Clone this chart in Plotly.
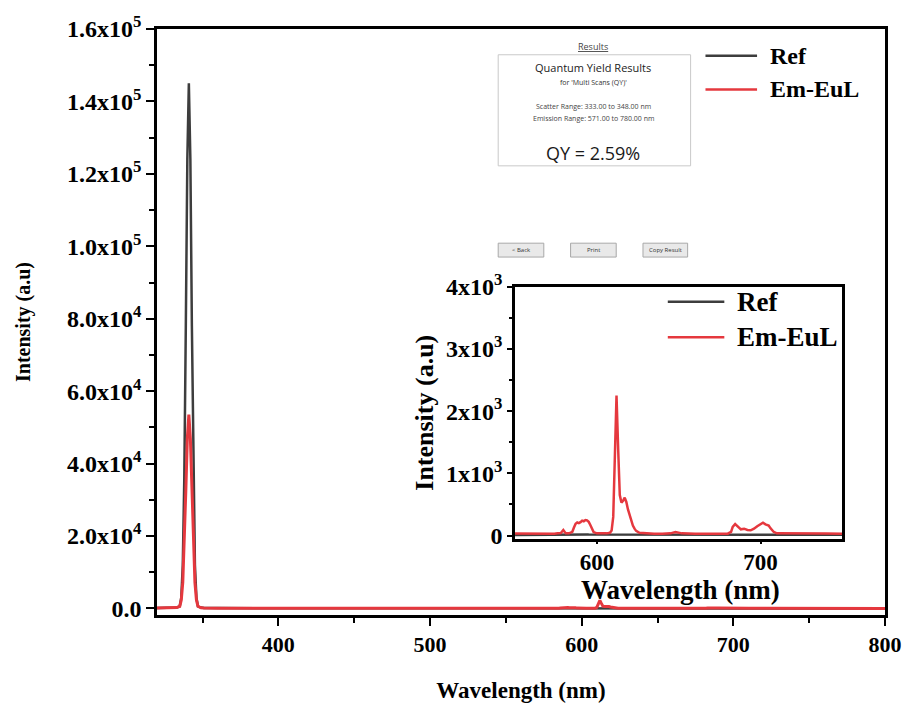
import plotly.graph_objects as go

# ---- spectra (wavelength in nm, intensity in a.u.) ----
scatter_wl = [320, 325, 330, 333, 335, 336, 337, 338, 339, 340, 341, 342, 343,
              344, 345, 346, 347, 349, 351, 360, 380, 400, 450, 500, 540]
ref_scatter = [150, 150, 200, 300, 600, 3000, 12000, 36000, 78000, 124000, 145000,
               124000, 78000, 36000, 12000, 3000, 600, 250, 150, 100, 80, 80, 60, 50, 40]
em_scatter = [100, 100, 150, 250, 600, 2350, 7200, 17400, 32500, 47000, 53500,
              47000, 32500, 17400, 7200, 2350, 600, 200, 120, 80, 60, 50, 40, 35, 30]

emission_wl = [550, 555, 560, 565, 570, 574, 576, 578, 579.5, 581,
               583, 585, 586, 587, 588, 589, 590, 591, 592, 593,
               594, 595, 596, 597, 598, 600, 603, 606, 608, 609,
               610, 611, 612, 613, 614, 615, 616, 617, 618, 619,
               620, 621, 622, 623, 624, 626, 630, 635, 640, 645,
               648, 650, 652, 660, 670, 680, 682, 683, 684.5, 686,
               688, 690, 692, 694, 696, 698, 700, 701.5, 703, 705,
               706, 708, 710, 720, 730, 740, 750]
ref_emission = [10, 12, 11, 12, 13, 12, 12, 13, 12, 12,
                13, 14, 14, 15, 15, 15, 16, 16, 16, 16,
                16, 15, 15, 14, 14, 13, 12, 12, 12, 13,
                14, 16, 18, 16, 14, 14, 14, 14, 14, 13,
                13, 12, 12, 12, 12, 12, 12, 11, 11, 12,
                12, 12, 12, 11, 11, 12, 12, 13, 14, 13,
                13, 13, 13, 13, 13, 13, 14, 14, 14, 13,
                12, 12, 11, 10, 10, 10, 10]
em_emission = [30, 28, 32, 30, 28, 30, 38, 40, 90, 35,
               35, 60, 130, 190, 210, 200, 215, 240, 230, 250,
               245, 220, 170, 100, 55, 35, 30, 35, 45, 80,
               300, 1150, 2250, 1400, 650, 530, 560, 610, 540, 420,
               320, 230, 160, 110, 75, 45, 35, 30, 28, 35,
               55, 50, 35, 28, 30, 30, 60, 140, 185, 150,
               100, 110, 90, 85, 110, 150, 180, 205, 180, 160,
               120, 60, 35, 30, 28, 32, 30]

tail_wl = [760, 780, 800]
ref_tail = [10, 10, 10]
em_tail = [28, 30, 28]

wavelength = scatter_wl + emission_wl + tail_wl
ref_intensity = ref_scatter + ref_emission + ref_tail
em_intensity = em_scatter + em_emission + em_tail

main_yticks = [0, 20000, 40000, 60000, 80000, 100000, 120000, 140000, 160000]
main_yticktext = ["0.0", "2.0x10<sup>4</sup>", "4.0x10<sup>4</sup>", "6.0x10<sup>4</sup>",
                  "8.0x10<sup>4</sup>", "1.0x10<sup>5</sup>", "1.2x10<sup>5</sup>",
                  "1.4x10<sup>5</sup>", "1.6x10<sup>5</sup>"]
main_xticks = [400, 500, 600, 700, 800]
inset_yticks = [0, 1000, 2000, 3000, 4000]
inset_yticktext = ["0", "1x10<sup>3</sup>", "2x10<sup>3</sup>", "3x10<sup>3</sup>", "4x10<sup>3</sup>"]
inset_xticks = [600, 700]

REF_COLOR = "#3d3d3d"
EM_COLOR = "#e5383e"
SERIF = "Liberation Serif"
UI = "Open Sans"

W, H = 914, 711
ML, MR, MT, MB = 157, 23, 28, 92
PW, PH = W - ML - MR, H - MT - MB


def px(x):
    return (x - ML) / PW


def py(y):
    return (H - MB - y) / PH


fig = go.Figure()

# main axes
fig.add_trace(go.Scatter(x=wavelength, y=ref_intensity, mode="lines", name="Ref",
                         line=dict(color=REF_COLOR, width=2.5), showlegend=False,
                         xaxis="x", yaxis="y"))
fig.add_trace(go.Scatter(x=wavelength, y=em_intensity, mode="lines", name="Em-EuL",
                         line=dict(color=EM_COLOR, width=3), showlegend=False,
                         xaxis="x", yaxis="y"))
# inset axes (same data, zoomed on the Eu emission)
fig.add_trace(go.Scatter(x=wavelength, y=ref_intensity, mode="lines", name="Ref",
                         line=dict(color=REF_COLOR, width=2.5), showlegend=False,
                         xaxis="x2", yaxis="y2"))
fig.add_trace(go.Scatter(x=wavelength, y=em_intensity, mode="lines", name="Em-EuL",
                         line=dict(color=EM_COLOR, width=2.5), showlegend=False,
                         xaxis="x2", yaxis="y2"))

axis_common = dict(showline=True, linecolor="black", mirror=True, showgrid=False,
                   zeroline=False, ticks="outside", tickcolor="black")

fig.update_layout(
    width=W, height=H,
    margin=dict(l=ML, r=MR, t=MT, b=MB),
    paper_bgcolor="white", plot_bgcolor="white",
    font=dict(family=SERIF, color="black"),
    xaxis=dict(**axis_common, domain=[0, 1], anchor="y", range=[320, 800],
               linewidth=2.5, tickwidth=2, ticklen=8,
               tickmode="array", tickvals=main_xticks,
               tickfont=dict(family=SERIF, size=22, weight="bold"),
               minor=dict(tickmode="linear", tick0=0, dtick=50, ticks="outside",
                          ticklen=5, tickwidth=2, tickcolor="black"),
               title=dict(text="Wavelength (nm)", standoff=26,
                          font=dict(family=SERIF, size=23, weight="bold"))),
    yaxis=dict(**axis_common, domain=[0, 1], anchor="x", range=[-1800, 160000],
               linewidth=2.5, tickwidth=2, ticklen=8,
               tickmode="array", tickvals=main_yticks, ticktext=main_yticktext,
               tickfont=dict(family=SERIF, size=24, weight="bold"),
               minor=dict(tickmode="linear", tick0=0, dtick=10000, ticks="outside",
                          ticklen=5, tickwidth=2, tickcolor="black"),
               title=dict(text="Intensity (a.u)", standoff=32,
                          font=dict(family=SERIF, size=20, weight="bold"))),
    xaxis2=dict(**axis_common, domain=[px(518), px(848)], anchor="y2", range=[550, 750],
                linewidth=2.5, tickwidth=2, ticklen=3, ticklabelstandoff=-2,
                tickmode="array", tickvals=inset_xticks,
                tickfont=dict(family=SERIF, size=23, weight="bold")),
    yaxis2=dict(**axis_common, domain=[py(542), py(288)], anchor="x2", range=[-50, 4000],
                linewidth=2.5, tickwidth=2, ticklen=5,
                tickmode="array", tickvals=inset_yticks, ticktext=inset_yticktext,
                tickfont=dict(family=SERIF, size=24, weight="bold"),
                minor=dict(tickmode="linear", tick0=0, dtick=500, ticks="outside",
                           ticklen=3, tickwidth=2, tickcolor="black"),
                title=dict(text="Intensity (a.u)", standoff=6,
                           font=dict(family=SERIF, size=26, weight="bold"))),
)

shapes = []
annotations = []

# inset x-axis title sits tight under its tick labels
annotations.append(dict(xref="paper", yref="paper", x=px(685), y=py(594),
                        xanchor="center", yanchor="middle", showarrow=False,
                        text="Wavelength (nm)",
                        font=dict(family=SERIF, size=27, weight="bold", color="black")))


def legend_entry(x0, x1, y, color, width, label, size):
    shapes.append(dict(type="line", xref="paper", yref="paper",
                       x0=px(x0), x1=px(x1), y0=py(y), y1=py(y),
                       line=dict(color=color, width=width)))
    annotations.append(dict(xref="paper", yref="paper", x=px(x1 + 11), y=py(y),
                            xanchor="left", yanchor="middle", showarrow=False,
                            text=label, font=dict(family=SERIF, size=size,
                                                  weight="bold", color="black")))


# legends
legend_entry(710, 762, 55, REF_COLOR, 2.5, "Ref", 24)
legend_entry(710, 762, 89, EM_COLOR, 2.5, "Em-EuL", 24)
legend_entry(672, 729, 303, REF_COLOR, 2.5, "Ref", 27)
legend_entry(672, 729, 339, EM_COLOR, 2.5, "Em-EuL", 27)

# quantum-yield result panel
shapes.append(dict(type="rect", xref="paper", yref="paper",
                   x0=px(501), x1=px(695), y0=py(166), y1=py(54),
                   line=dict(color="#c9c9c9", width=1), fillcolor="white"))


def ui_text(x, y, text, size, color="#333333"):
    annotations.append(dict(xref="paper", yref="paper", x=px(x), y=py(y),
                            xanchor="center", yanchor="middle", showarrow=False,
                            text=text, font=dict(family=UI, size=size, color=color)))


ui_text(597, 46, "<u>Results</u>", 9, "#444444")
ui_text(597, 67, "Quantum Yield Results", 11, "#222222")
ui_text(597, 82, "for 'Multi Scans (QY)'", 7, "#333333")
ui_text(597, 106, "Scatter Range: 333.00 to 348.00 nm", 7, "#444444")
ui_text(597, 118, "Emission Range: 571.00 to 780.00 nm", 7, "#444444")
ui_text(597, 153, "QY = 2.59%", 18, "#1a1a1a")

for bx0, bx1, label in [(501, 547, "&lt; Back"), (574, 620, "Print"), (647, 692, "Copy Result")]:
    shapes.append(dict(type="rect", xref="paper", yref="paper",
                       x0=px(bx0), x1=px(bx1), y0=py(258), y1=py(244),
                       line=dict(color="#a8a8a8", width=1), fillcolor="#e9e9e9"))
    ui_text((bx0 + bx1) / 2, 251, label, 6, "#333333")

fig.update_layout(shapes=shapes, annotations=annotations)

fig.write_html("out.html")
